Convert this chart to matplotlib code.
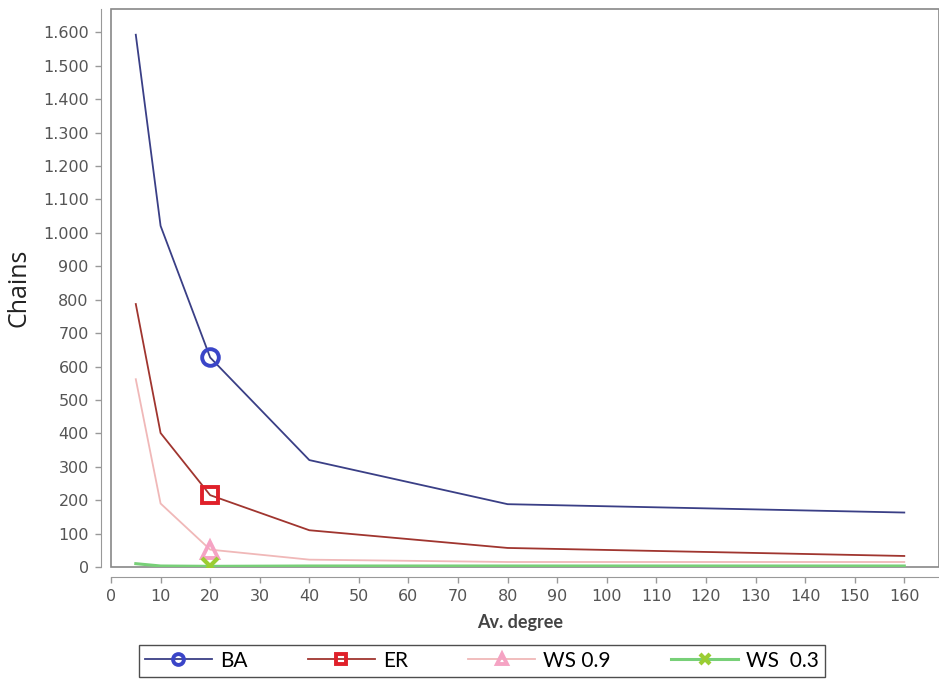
import matplotlib
matplotlib.use('Agg')
import matplotlib.pyplot as plt
from matplotlib.patches import Rectangle
from matplotlib.ticker import FuncFormatter, MultipleLocator

# data
degree = [5, 10, 20, 40, 80, 160]
ba = [1593, 1021, 627, 320, 188, 163]
er = [787, 401, 215, 110, 57, 33]
ws09 = [562, 190, 52, 22, 15, 15]
ws03 = [10, 3, 2, 3, 3, 3]
labels = ['BA', 'ER', 'WS 0.9', 'WS  0.3']

fig = plt.figure(figsize=(9.39, 6.8), dpi=100)
ax = fig.add_axes([111/939, 113/680, 828/939, 558/680])

mk = dict(markevery=[2], markerfacecolor='none', markersize=12, markeredgewidth=2.8)
ax.plot(degree, ba, color='#3a3f86', lw=1.3, marker='o', markeredgecolor='#3a45c8', label=labels[0], **mk)
ax.plot(degree, er, color='#a0352f', lw=1.3, marker='s', markeredgecolor='#e0202a', label=labels[1], **mk)
ax.plot(degree, ws09, color='#f0b8b8', lw=1.3, marker='^', markeredgecolor='#f5a3c3', label=labels[2], **mk)
ax.plot(degree, ws03, color='#78d078', lw=2.2, marker='x', markeredgecolor='#9acd32', label=labels[3],
        markevery=[2], markersize=12, markeredgewidth=3)

ax.set_xlim(0, 167)
ax.set_ylim(0, 1670)
ax.xaxis.set_major_locator(MultipleLocator(10))
ax.yaxis.set_major_locator(MultipleLocator(100))
ax.yaxis.set_major_formatter(FuncFormatter(lambda v, p: f'{int(v):,}'.replace(',', '.')))

for s in ['top', 'right']:
    ax.spines[s].set_visible(False)
for s in ['left', 'bottom']:
    ax.spines[s].set_position(('outward', 7))
    ax.spines[s].set_color('#999999')
ax.add_patch(Rectangle((0, 0), 1, 1, transform=ax.transAxes, fill=False,
                       edgecolor='#888888', lw=1.2, clip_on=False))

ax.tick_params(colors='#999999', labelcolor='#555555', labelsize=11.5, length=4, width=1, pad=5)
ax.set_xlabel('Av. degree', fontsize=13, fontweight='bold', color='#444444',
              family='Lato', labelpad=9)
ax.xaxis.set_label_coords(0.494, -0.085)
ax.set_ylabel('Chains', fontsize=18, color='#222222', family='Open Sans', labelpad=8)

fig.legend(loc='lower center', bbox_to_anchor=(482/939, 3/680), ncol=4,
           frameon=True, fancybox=False, edgecolor='#222222', handlelength=3.2,
           handletextpad=0.4, markerscale=0.65, columnspacing=2.9, borderpad=0.3,
           borderaxespad=0, prop={'family': 'Lato', 'size': 15})

fig.savefig('out.png', dpi=100)
